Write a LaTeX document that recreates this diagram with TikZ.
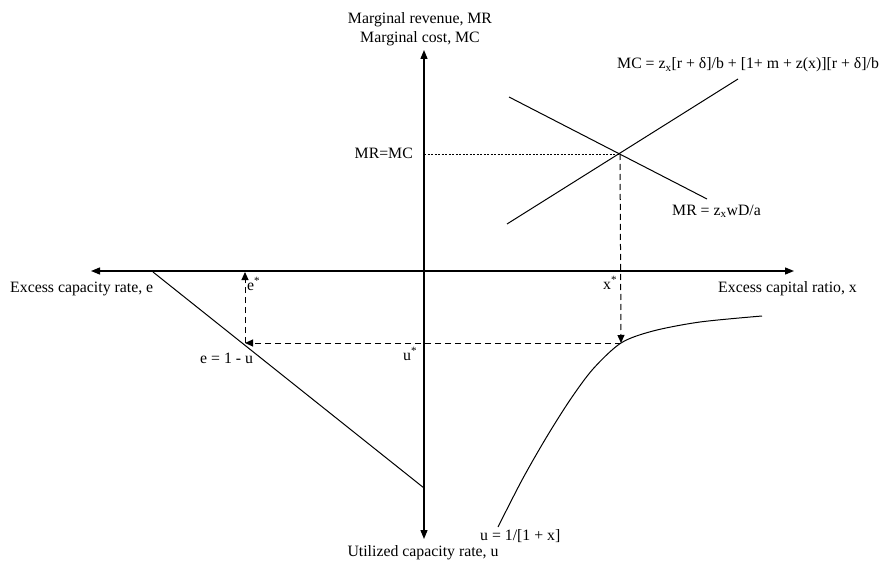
\documentclass[tikz,border=0pt]{standalone}
\usepackage{fontspec}
\setmainfont{Liberation Serif}
\usetikzlibrary{arrows.meta}
\begin{document}
\begin{tikzpicture}[x=1pt,y=-1pt,
  lbl/.style={inner sep=0pt, font=\fontsize{15.8}{19}\selectfont},
  axis/.style={line width=1.3pt, -{Triangle[length=9pt,width=7pt]}},
  curve/.style={line width=1pt},
  guide/.style={line width=1pt, dash pattern=on 6pt off 4pt},
  guidearrow/.style={guide, -{Triangle[length=8pt,width=7pt]}},
  dotline/.style={line width=0.9pt, dash pattern=on 2pt off 1.5pt}]
\useasboundingbox (0,0) rectangle (885,561);
% axes
\coordinate (O) at (424,271);
\coordinate (yt) at (424,50);
\coordinate (yb) at (424,539);
\coordinate (xl) at (91,271);
\coordinate (xr) at (794,271);
\draw[axis] (O) -- (yt);
\draw[axis] (O) -- (yb);
\draw[axis] (O) -- (xl);
\draw[axis] (O) -- (xr);
% MR and MC lines
\coordinate (mr1) at (509,97);
\coordinate (mr2) at (707,199);
\coordinate (mc1) at (507,224);
\coordinate (mc2) at (738,79);
\draw[curve] (mr1) -- (mr2);
\draw[curve] (mc1) -- (mc2);
\coordinate (E) at (620,154);
\coordinate (Ey) at (424,154);
\draw[dotline] (Ey) -- (E);
% utilization curve
\coordinate (U) at (621,343);
\draw[curve] plot[smooth] coordinates {(498,527) (522,480) (546,438) (570,400) (593,369) (621,343) (653,331) (700,322) (762,316)};
% e = 1 - u line
\coordinate (e1) at (153,272);
\coordinate (e2) at (424,488);
\draw[curve] (e1) -- (e2);
% dashed guides
\coordinate (Ue) at (245,343);
\coordinate (ex) at (245,272);
\draw[guidearrow] (E) -- (U);
\draw[guidearrow] (U) -- (Ue);
\draw[guidearrow] (Ue) -- (ex);
% labels
\node[lbl, anchor=base] (ylab1) at (420,24) {Marginal revenue, MR};
\node[lbl, anchor=base] (ylab2) at (420,43) {Marginal cost, MC};
\node[lbl, anchor=base west] (mclab) at (617,69) {MC = z\textsubscript{x}[r + δ]/b + [1+ m + z(x)][r + δ]/b};
\node[lbl, anchor=base east] (eqlab) at (413,159) {MR=MC};
\node[lbl, anchor=base west] (mrlab) at (672,215) {MR = z\textsubscript{x}wD/a};
\node[lbl, anchor=base west] (xstar) at (603,289) {x\textsuperscript{*}};
\node[lbl, anchor=base west] (xlab) at (718,292) {Excess capital ratio, x};
\node[lbl, anchor=base west] (elab) at (10,292) {Excess capacity rate, e};
\node[lbl, anchor=base west] (estar) at (247,290) {e\textsuperscript{*}};
\node[lbl, anchor=base west] (elinelab) at (200,363) {e = 1 - u};
\node[lbl, anchor=base west] (ustar) at (403,360) {u\textsuperscript{*}};
\node[lbl, anchor=base west] (ucurvelab) at (480,540) {u = 1/[1 + x]};
\node[lbl, anchor=base] (ulab) at (423,556) {Utilized capacity rate, u};
\end{tikzpicture}
\end{document}
